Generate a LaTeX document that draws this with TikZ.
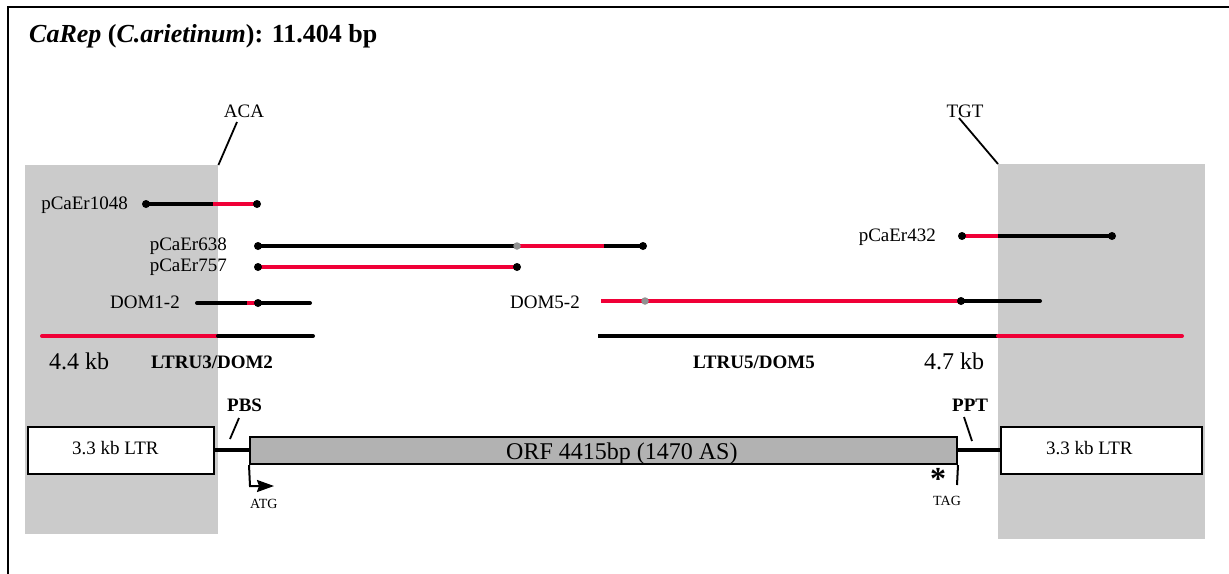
\documentclass[tikz,border=0pt]{standalone}
\usepackage{fontspec}
\setmainfont{Liberation Serif}
\usetikzlibrary{arrows.meta}
\definecolor{seqred}{RGB}{240,0,55}
\definecolor{ltrgrey}{RGB}{203,203,203}
\definecolor{orfgrey}{RGB}{178,178,178}
\definecolor{gapgrey}{RGB}{145,145,145}
\begin{document}
\begin{tikzpicture}[x=1pt,y=-1pt,
  lbl/.style={font=\fontsize{19}{21}\selectfont, inner sep=0pt},
  boldlbl/.style={font=\fontsize{19}{21}\selectfont\bfseries, inner sep=0pt},
  biglbl/.style={font=\fontsize{24}{27}\selectfont, inner sep=0pt},
  smalllbl/.style={font=\fontsize{14}{16}\selectfont, inner sep=0pt},
  blackseg/.style={line width=4pt, black},
  redseg/.style={line width=4pt, seqred},
  enddot/.style={circle, fill=black, inner sep=0pt, minimum size=8pt},
  gapdot/.style={circle, fill=gapgrey, inner sep=0pt, minimum size=7.5pt},
  greyzone/.style={fill=ltrgrey, inner sep=0pt, anchor=north west},
  tick/.style={line width=1.8pt},
  ltrbox/.style={draw, line width=2pt, fill=white, inner sep=0pt},
]
\useasboundingbox (0,0) rectangle (1229,573);
\clip (0,0) rectangle (1229,573);
\fill[white] (0,0) rectangle (1229,573);

% outer frame (left and top edges)
\draw[line width=2.3pt] (8,700) -- (8,7) -- (1300,7);

% title
\node[anchor=base west, inner sep=0pt, font=\fontsize{26}{30}\selectfont\bfseries] (title) at (29,42)
  {\textit{CaRep} (\textit{C.arietinum}): 11.404 bp};

% shaded LTR zones
\node[greyzone, minimum width=193pt, minimum height=369pt] (lzone) at (25,165) {};
\node[greyzone, minimum width=207pt, minimum height=375pt] (rzone) at (998,164) {};

% target site duplications
\node[lbl, anchor=base] (aca) at (244,117) {ACA};
\node[lbl, anchor=base] (tgt) at (965,117) {TGT};
\coordinate (acatick) at (237,122);
\coordinate (tgttick) at (959,118);
\draw[tick] (acatick) -- (lzone.north east);
\draw[tick] (tgttick) -- (rzone.north west);

% clone labels
\node[lbl, anchor=base east] (n1048) at (128,209.5) {pCaEr1048};
\node[lbl, anchor=base east] (n638) at (227,250.5) {pCaEr638};
\node[lbl, anchor=base east] (n757) at (227,271.5) {pCaEr757};
\node[lbl, anchor=base east] (ndom12) at (180,308) {DOM1-2};
\node[lbl, anchor=base east] (ndom52) at (580,308) {DOM5-2};
\node[lbl, anchor=base east] (n432) at (936,241.5) {pCaEr432};

% clone segment points
\coordinate (a1) at (146,204); \coordinate (a2) at (213,204); \coordinate (a3) at (257,204);
\coordinate (b1) at (258,246); \coordinate (b2) at (517,246); \coordinate (b3) at (604,246); \coordinate (b4) at (643,246);
\coordinate (c1) at (258,267); \coordinate (c2) at (517,267);
\coordinate (d1) at (197,303); \coordinate (d2) at (247,303); \coordinate (d3) at (258,303); \coordinate (d4) at (310,303);
\coordinate (e1) at (601,301); \coordinate (e2) at (645,301); \coordinate (e3) at (961,301); \coordinate (e4) at (1040,301);
\coordinate (f1) at (962,236); \coordinate (f2) at (998,236); \coordinate (f3) at (1112,236);
\coordinate (g1) at (42,336); \coordinate (g2) at (218,336); \coordinate (g3) at (313,336);
\coordinate (h1) at (598,336); \coordinate (h2) at (998,336); \coordinate (h3) at (1182,336);

% clone segments
\draw[blackseg] (a1) -- (a2);
\draw[redseg] (a2) -- (a3);
\draw[blackseg] (b1) -- (b2);
\draw[redseg] (b2) -- (b3);
\draw[blackseg] (b3) -- (b4);
\draw[redseg] (c1) -- (c2);
\draw[blackseg, line cap=round] (d1) -- (d2);
\draw[redseg] (d2) -- (d3);
\draw[blackseg, line cap=round] (d3) -- (d4);
\draw[redseg] (e1) -- (e3);
\draw[blackseg, line cap=round] (e3) -- (e4);
\draw[redseg] (f1) -- (f2);
\draw[blackseg] (f2) -- (f3);

% genomic bars
\draw[redseg, line cap=round] (g1) -- (g2);
\draw[blackseg, line cap=round] (g2) -- (g3);
\draw[blackseg] (h1) -- (h2);
\draw[redseg, line cap=round] (h2) -- (h3);

% segment end points
\node[enddot] (p1048a) at (a1) {};
\node[enddot] (p1048b) at (a3) {};
\node[enddot] (p638a) at (b1) {};
\node[gapdot] (p638g) at (b2) {};
\node[enddot] (p638b) at (b4) {};
\node[enddot] (p757a) at (c1) {};
\node[enddot] (p757b) at (c2) {};
\node[enddot] (pdom12) at (d3) {};
\node[gapdot] (pdom52g) at (e2) {};
\node[enddot] (pdom52) at (e3) {};
\node[enddot] (p432a) at (f1) {};
\node[enddot] (p432b) at (f3) {};

% bar labels
\node[biglbl, anchor=base west] (kb44) at (49,369) {4.4 kb};
\node[boldlbl, anchor=base west] (ltru3) at (151,368) {LTRU3/DOM2};
\node[boldlbl, anchor=base east] (ltru5) at (815,368) {LTRU5/DOM5};
\node[biglbl, anchor=base west] (kb47) at (924,369) {4.7 kb};

% element structure
\node[ltrbox, minimum width=186pt, minimum height=47pt] (ltrL) at (121,450) {};
\node[ltrbox, minimum width=201pt, minimum height=47pt] (ltrR) at (1101.5,450) {};
\node[draw, line width=2pt, fill=orfgrey, inner sep=0pt, minimum width=707pt, minimum height=27pt] (orf) at (603.5,450.5) {};
\node[lbl, anchor=base west] (ltrLtxt) at (72,454) {3.3 kb LTR};
\node[lbl, anchor=base west] (ltrRtxt) at (1046,454) {3.3 kb LTR};
\node[biglbl, anchor=base west] (orftxt) at (506,459) {ORF 4415bp (1470 AS)};
\draw[line width=4pt] (ltrL.east) -- (ltrL.east -| orf.west);
\draw[line width=4pt] (orf.east |- ltrR.west) -- (ltrR.west);

% PBS and PPT
\node[boldlbl, anchor=base west] (pbs) at (227,411) {PBS};
\node[boldlbl, anchor=base west] (ppt) at (952,411) {PPT};
\coordinate (pbs1) at (239,418); \coordinate (pbs2) at (230,439);
\coordinate (ppt1) at (964,417); \coordinate (ppt2) at (972,441);
\draw[tick] (pbs1) -- (pbs2);
\draw[tick] (ppt1) -- (ppt2);

% start and stop codons
\coordinate (atgcorner) at (250,486);
\coordinate (atgtip) at (274,486);
\draw[line width=2pt, -{Stealth[length=17pt,width=12pt,inset=2pt]}] (orf.south west) -- (atgcorner) -- (atgtip);
\node[smalllbl, anchor=base west] (atg) at (250,508) {ATG};
\coordinate (tagend) at (957,485);
\draw[line width=2pt] (orf.south east) -- (tagend);
\node[smalllbl, anchor=base west] (tag) at (933,505) {TAG};
\node[anchor=base, inner sep=0pt, font=\fontsize{32}{32}\selectfont\bfseries] (stop) at (938,489) {*};
\end{tikzpicture}
\end{document}
